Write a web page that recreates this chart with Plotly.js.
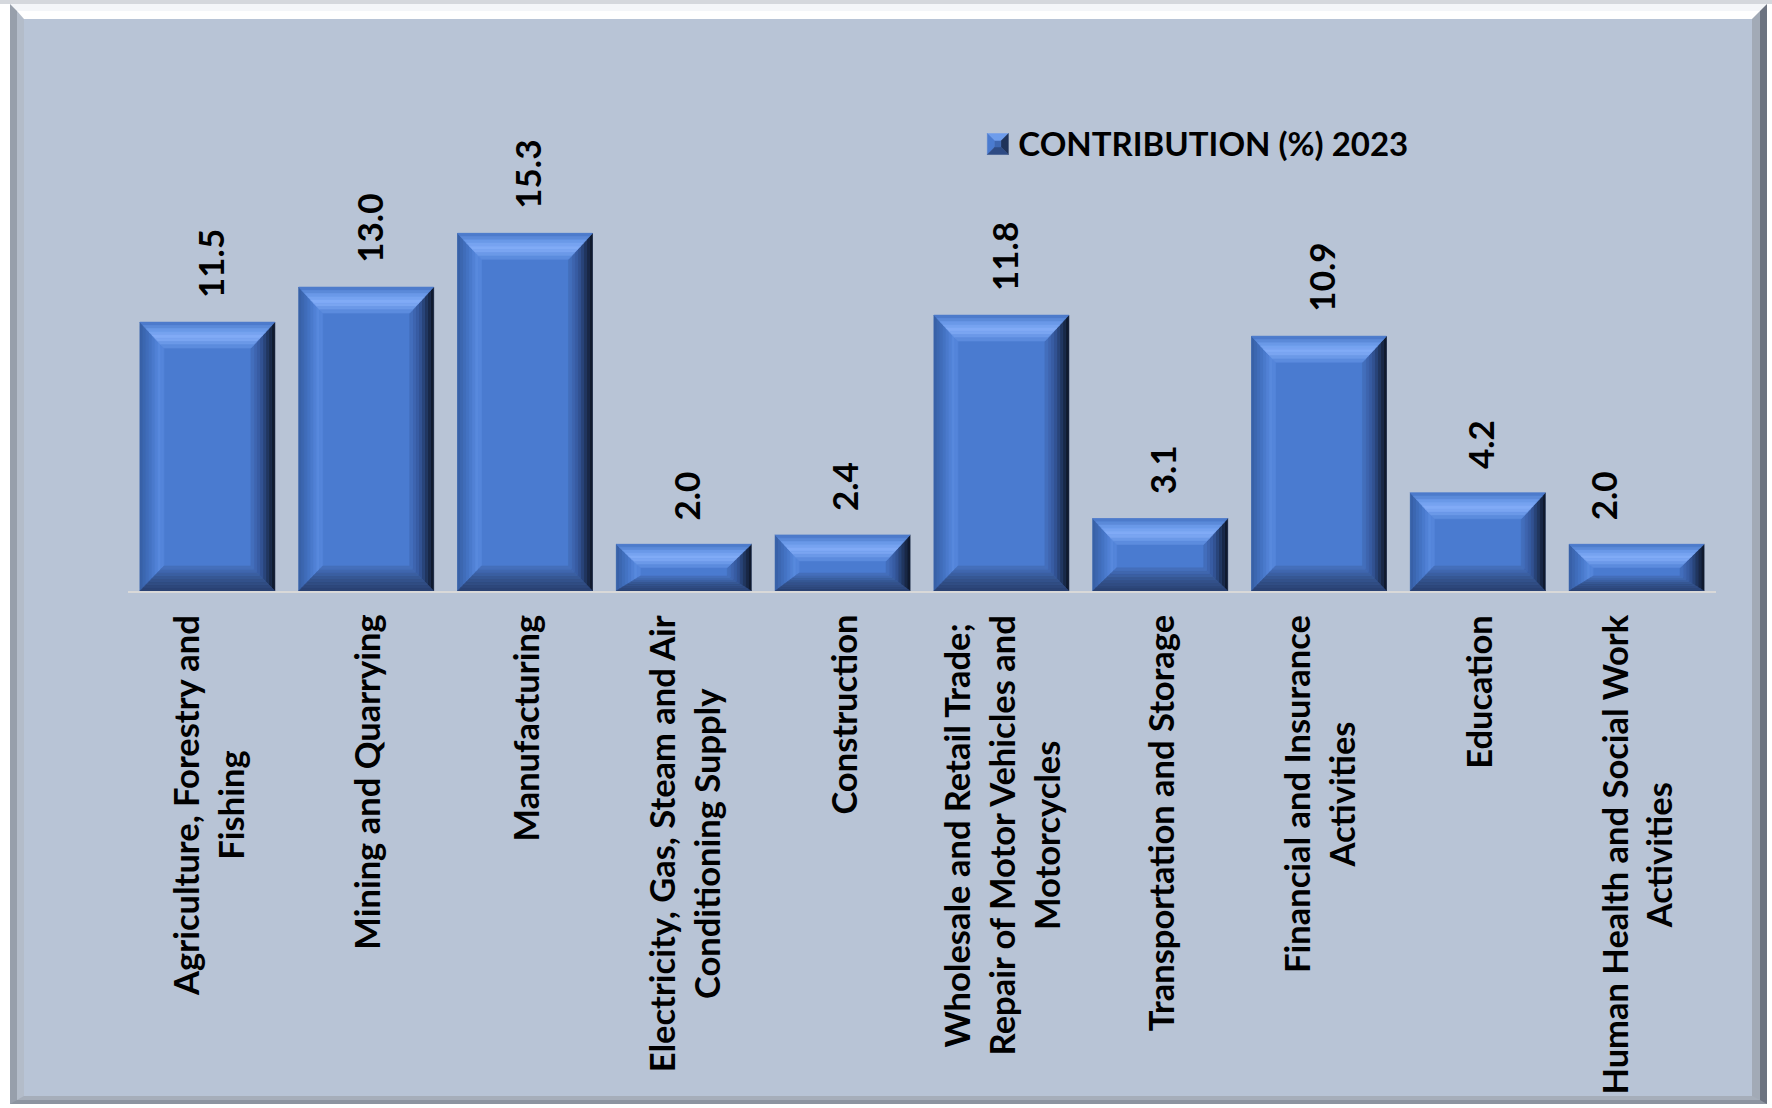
<!DOCTYPE html>
<html><head><meta charset="utf-8">
<script src="https://cdn.plot.ly/plotly-3.0.1.min.js"></script>
<style>
html,body{margin:0;padding:0;background:#ffffff;width:1772px;height:1108px;overflow:hidden;}
#topstrip{position:absolute;left:0;top:0;width:1772px;height:4px;background:#D5D8DD;}
#chart{position:absolute;left:10px;top:4px;width:1757px;height:1100px;}
#frame{position:absolute;left:10px;top:4px;width:1757px;height:1100px;box-sizing:border-box;pointer-events:none;
  border-style:solid;border-width:7px 7px 4px 7px;border-color:#F4F6F9 #6C7380 #8C94A0 #979FAB;}
#frame2{position:absolute;left:0;top:0;right:0;bottom:0;box-sizing:border-box;
  border-style:solid;border-width:8px 8px 4px 7px;border-color:#FFFFFF #A2AAB6 #A6AEBA #B3BCC9;}
</style></head>
<body>
<div id="topstrip"></div>
<div id="chart"></div>
<div id="frame"><div id="frame2"></div></div>
<script>
// ---- data ----
const categories = [
  "Agriculture, Forestry and Fishing",
  "Mining and Quarrying",
  "Manufacturing",
  "Electricity, Gas, Steam and Air Conditioning Supply",
  "Construction",
  "Wholesale and Retail Trade; Repair of Motor Vehicles and Motorcycles",
  "Transportation and Storage",
  "Financial and Insurance Activities",
  "Education",
  "Human Health and Social Work Activities"
];
const tickLabels = [
  "Agriculture, Forestry and<br>Fishing",
  "Mining and Quarrying",
  "Manufacturing",
  "Electricity, Gas, Steam and Air<br>Conditioning Supply",
  "Construction",
  "Wholesale and Retail Trade;<br>Repair of Motor Vehicles and<br>Motorcycles",
  "Transportation and Storage",
  "Financial and Insurance<br>Activities",
  "Education",
  "Human Health and Social Work<br>Activities"
];
const values = [11.5, 13.0, 15.3, 2.0, 2.4, 11.8, 3.1, 10.9, 4.2, 2.0];
const seriesName = "CONTRIBUTION (%) 2023";

// ---- layout constants ----
const W = 1757, H = 1100;
const M = {l: 118, r: 51, t: 96, b: 513};
const yMax = 21;
const barWidth = 0.85;
const plotW = W - M.l - M.r, plotH = H - M.t - M.b;
const pxX = plotW / categories.length;
const pxY = plotH / yMax;
const FONT = "Lato, 'Open Sans', sans-serif";

// ---- bevel helpers ----
function hex2rgb(h){h=h.replace('#','');return [0,2,4].map(i=>parseInt(h.substr(i,2),16));}
function colorAt(stops,f){
  for(let k=0;k<stops.length-1;k++){
    const [f0,c0]=stops[k],[f1,c1]=stops[k+1];
    if(f>=f0 && f<=f1){
      const t=(f-f0)/(f1-f0), a=hex2rgb(c0), b=hex2rgb(c1);
      return 'rgb('+a.map((v,i)=>Math.round(v+(b[i]-v)*t)).join(',')+')';
    }
  }
  return stops[stops.length-1][1];
}
function lp(P,Q,t){return [P[0]+(Q[0]-P[0])*t, P[1]+(Q[1]-P[1])*t];}
const STOPS = {
  top:    [[0,'#4673C4'],[0.35,'#6E9DEC'],[0.6,'#84AEF8'],[0.8,'#6C9AE9'],[1,'#5586D9']],
  left:   [[0,'#365EA2'],[0.5,'#4676C8'],[0.85,'#5A8BE0'],[1,'#4F80D5']],
  right:  [[0,'#0C1322'],[0.25,'#1D2F52'],[0.6,'#34569A'],[1,'#4672C2']],
  bottom: [[0,'#28406F'],[0.5,'#34538E'],[1,'#4773C1']]
};
const shapes = [];
function face(P0,P1,Q0,Q1,stops,n){
  for(let k=0;k<n;k++){
    const f0=k/n, f1=(k+1)/n, c=colorAt(stops,(f0+f1)/2);
    const A0=lp(P0,Q0,f0), A1=lp(P1,Q1,f0), B1=lp(P1,Q1,f1), B0=lp(P0,Q0,f1);
    shapes.push({type:'path', xref:'x', yref:'y', layer:'above',
      path:`M${A0[0]},${A0[1]} L${A1[0]},${A1[1]} L${B1[0]},${B1[1]} L${B0[0]},${B0[1]} Z`,
      fillcolor:c, line:{color:c, width:0.6}});
  }
}
values.forEach((v,i)=>{
  const L=i-barWidth/2, R=i+barWidth/2, B=0, T=v;
  const hpx=v*pxY;
  const dx=24/pxX, dyt=Math.min(26,0.5*hpx)/pxY, dyb=Math.min(25,0.32*hpx)/pxY;
  face([L,B],[L,T],[L+dx,B+dyb],[L+dx,T-dyt],STOPS.left,8);
  face([R,B],[R,T],[R-dx,B+dyb],[R-dx,T-dyt],STOPS.right,8);
  face([L,T],[R,T],[L+dx,T-dyt],[R-dx,T-dyt],STOPS.top,8);
  face([L,B],[R,B],[L+dx,B+dyb],[R-dx,B+dyb],STOPS.bottom,8);
});

// ---- annotations ----
const annotations = [];
values.forEach((v,i)=>{
  annotations.push({x:categories[i], y:v, xref:'x', yref:'y', text:v.toFixed(1),
    showarrow:false, textangle:-90, xanchor:'center', yanchor:'bottom',
    yshift:22, xshift:(i===values.length-1 ? -34 : 2),
    font:{family:FONT, size:35, color:'#000', weight:700}});
});
tickLabels.forEach((t,i)=>{
  annotations.push({x:categories[i], y:0, xref:'x', yref:'y', text:t,
    showarrow:false, textangle:-90, xanchor:'center', yanchor:'top', align:'center',
    yshift:-22, font:{family:FONT, size:34.5, color:'#000', weight:700}});
});

const trace = {
  type:'bar', x:categories, y:values, name:seriesName,
  marker:{color:'#4A7BD0', line:{width:0}},
  hoverinfo:'x+y', showlegend:true
};

const layout = {
  width:W, height:H, margin:M,
  paper_bgcolor:'#B8C4D6', plot_bgcolor:'rgba(0,0,0,0)',
  font:{family:FONT, size:34, color:'#000', weight:700},
  bargap:1-barWidth,
  showlegend:true,
  legend:{x:0.5355, y:0.912, xanchor:'left', yanchor:'middle', bgcolor:'rgba(0,0,0,0)',
    font:{family:FONT, size:33, color:'#000', weight:700}},
  xaxis:{type:'category', range:[-0.5, categories.length-0.5], showticklabels:false,
    showgrid:false, zeroline:false, showline:true, linecolor:'#D9D9D9', linewidth:2, ticks:''},
  yaxis:{range:[0,yMax], visible:false, showgrid:false, zeroline:false},
  shapes:shapes, annotations:annotations
};

Plotly.newPlot('chart',[trace],layout,{displayModeBar:false, staticPlot:true}).then(()=>{
  // redraw legend symbol as a bevelled square just left of the legend text
  const txt = document.querySelector('#chart .legendtext');
  document.querySelectorAll('#chart .legendpoints path').forEach(p=>{
    const g = p.parentNode;
    const tr = txt.getBoundingClientRect();
    const m = g.getScreenCTM().inverse();
    const svg = g.ownerSVGElement;
    function toLocal(x,y){const pt=svg.createSVGPoint();pt.x=x;pt.y=y;const q=pt.matrixTransform(m);return [q.x,q.y];}
    const cx = tr.left - 20.5, cy = tr.top + tr.height/2 + 1, s = 10.5, inner = 3;
    const c = toLocal(cx,cy);
    const x0=c[0]-s, x1=c[0]+s, y0=c[1]-s, y1=c[1]+s;
    const ix0=c[0]-inner, ix1=c[0]+inner, iy0=c[1]-inner, iy1=c[1]+inner;
    p.setAttribute('d','');
    p.style.display='none';
    const faces = [
      [`M${x0},${y0}L${x1},${y0}L${ix1},${iy0}L${ix0},${iy0}Z`,'#6E9DEC'],
      [`M${x0},${y0}L${ix0},${iy0}L${ix0},${iy1}L${x0},${y1}Z`,'#4A7BD0'],
      [`M${x1},${y0}L${x1},${y1}L${ix1},${iy1}L${ix1},${iy0}Z`,'#1F3359'],
      [`M${x0},${y1}L${ix0},${iy1}L${ix1},${iy1}L${x1},${y1}Z`,'#2E4B84'],
      [`M${ix0},${iy0}L${ix1},${iy0}L${ix1},${iy1}L${ix0},${iy1}Z`,'#3F68B2']
    ];
    faces.forEach(([d,col])=>{
      const e=document.createElementNS('http://www.w3.org/2000/svg','path');
      e.setAttribute('d',d); e.setAttribute('fill',col);
      e.setAttribute('stroke',col); e.setAttribute('stroke-width','0.5');
      g.appendChild(e);
    });
  });
});
</script>
</body></html>
